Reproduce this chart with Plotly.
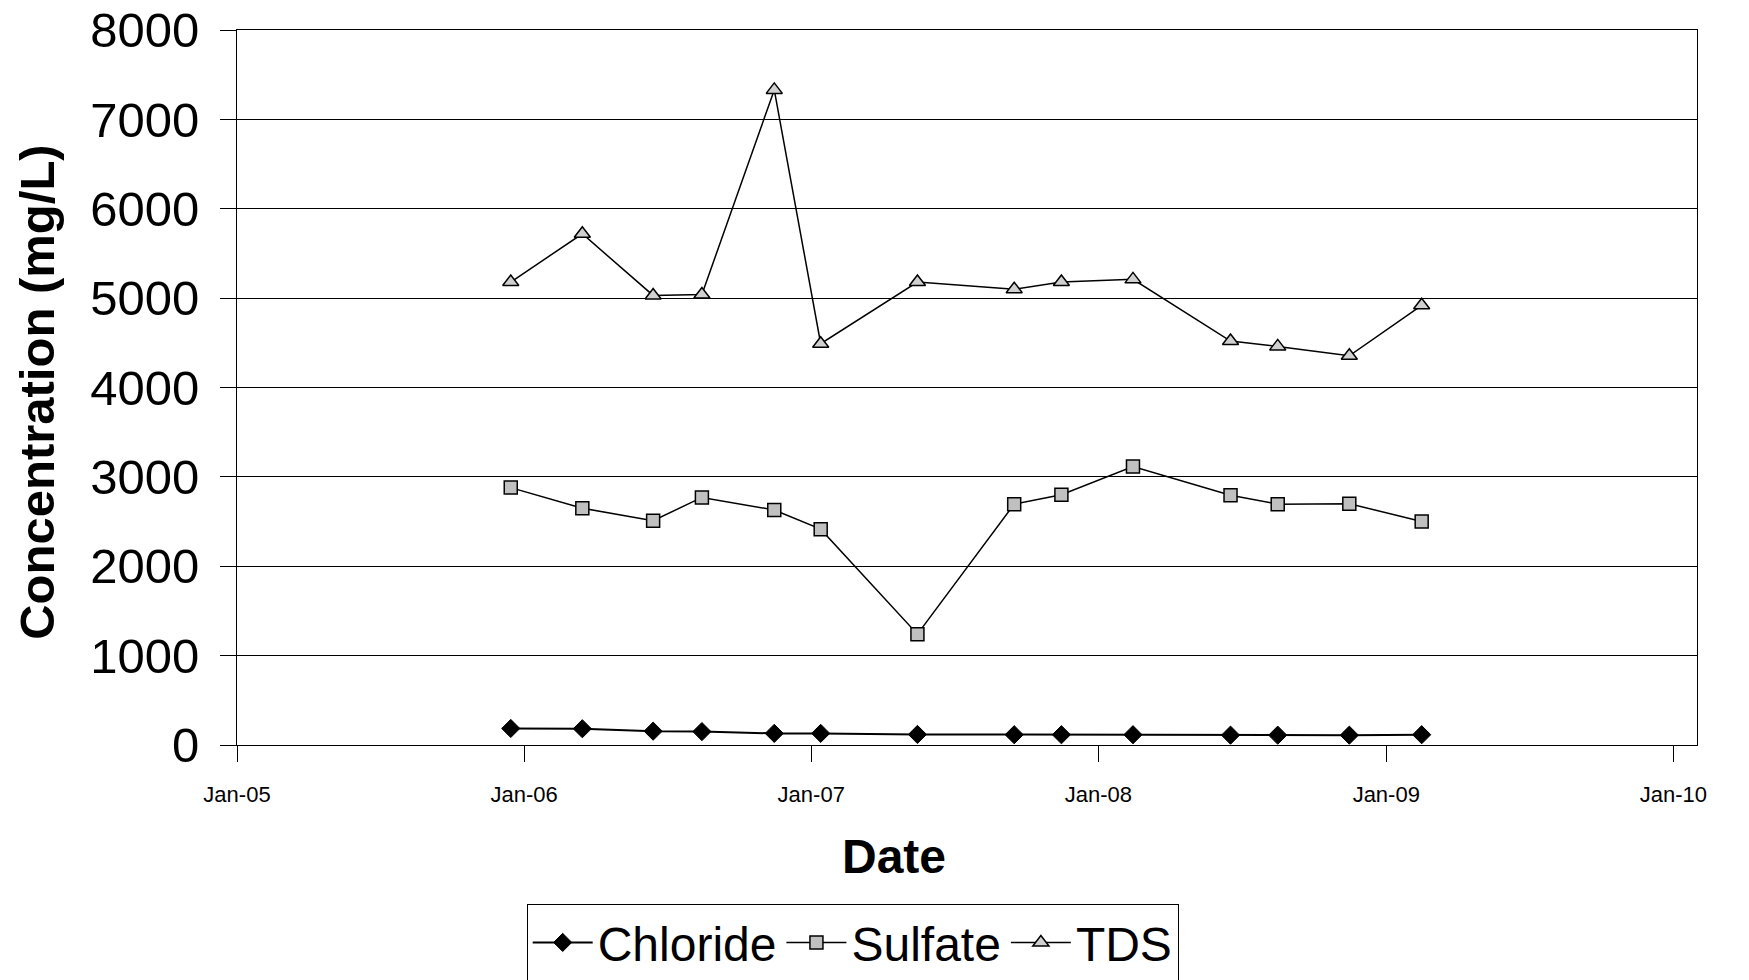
import plotly.graph_objects as go

dates = ["2005-12-15", "2006-03-16", "2006-06-14", "2006-08-15", "2006-11-15",
         "2007-01-13", "2007-05-16", "2007-09-16", "2007-11-15", "2008-02-14",
         "2008-06-17", "2008-08-16", "2008-11-15", "2009-02-15"]
chloride = [185, 182, 155, 150, 130, 130, 118, 115, 115, 115, 110, 110, 110, 115]
sulfate = [2880, 2650, 2510, 2770, 2630, 2415, 1240, 2695, 2800, 3115, 2795, 2695, 2700, 2500]
tds = [5180, 5720, 5030, 5040, 7330, 4490, 5180, 5100, 5180, 5210, 4520, 4460, 4355, 4920]
tick_dates = ["2005-01-01", "2006-01-01", "2007-01-01", "2008-01-01", "2009-01-01", "2010-01-01"]
tick_text = ["Jan-05", "Jan-06", "Jan-07", "Jan-08", "Jan-09", "Jan-10"]
y_ticks = [0, 1000, 2000, 3000, 4000, 5000, 6000, 7000, 8000]

FONT = "Arial, Liberation Sans, sans-serif"

fig = go.Figure()
fig.add_trace(go.Scatter(x=dates, y=chloride, name="Chloride", mode="lines+markers",
                         line=dict(color="black", width=2),
                         marker=dict(symbol="diamond", size=14, color="black",
                                     line=dict(color="black", width=1))))
fig.add_trace(go.Scatter(x=dates, y=sulfate, name="Sulfate", mode="lines+markers",
                         line=dict(color="black", width=1.5),
                         marker=dict(symbol="square", size=13, color="#c0c0c0",
                                     line=dict(color="black", width=1.5))))
fig.add_trace(go.Scatter(x=dates, y=tds, name="TDS", mode="lines+markers",
                         line=dict(color="black", width=1.5),
                         marker=dict(symbol="triangle-up", size=14, color="#d0d0d0",
                                     line=dict(color="black", width=1.5))))

fig.update_layout(
    width=1749, height=980,
    margin=dict(l=237, r=52, t=30, b=235, autoexpand=False),
    paper_bgcolor="white", plot_bgcolor="white",
    font=dict(family=FONT, color="black"),
    showlegend=True,
    legend=dict(orientation="h", x=0.4217, xanchor="center", y=-0.222, yanchor="top",
                font=dict(size=48, family=FONT, color="black"),
                bordercolor="black", borderwidth=1, bgcolor="white",
                itemwidth=60, tracegroupgap=0),
    xaxis=dict(
        range=["2005-01-01", "2010-01-31"], automargin=False,
        tickmode="array", tickvals=tick_dates, ticktext=tick_text,
        tickfont=dict(size=22, family=FONT, color="black"),
        ticks="outside", ticklen=16, tickcolor="black", tickwidth=1,
        ticklabelstandoff=14,
        showgrid=False, zeroline=False,
        showline=True, linecolor="black", linewidth=1, mirror=True,
    ),
    yaxis=dict(
        range=[0, 8000], tickmode="array", tickvals=y_ticks, automargin=False,
        tickfont=dict(size=49, family=FONT, color="black"),
        ticks="outside", ticklen=16, tickcolor="black", tickwidth=1,
        ticklabelstandoff=11,
        showgrid=True, gridcolor="black", gridwidth=1, zeroline=False,
        showline=True, linecolor="black", linewidth=1, mirror=True,
    ),
    annotations=[
        dict(text="<b>Date</b>", xref="paper", yref="paper", x=0.450, y=-0.156,
             xanchor="center", yanchor="middle", showarrow=False,
             font=dict(size=48, family=FONT, color="black")),
        dict(text="<b>Concentration (mg/L)</b>", xref="paper", yref="paper",
             x=-0.1370, y=0.494, xanchor="center", yanchor="middle", showarrow=False,
             textangle=-90, font=dict(size=49, family=FONT, color="black")),
    ],
)

fig.write_html("out.html")
